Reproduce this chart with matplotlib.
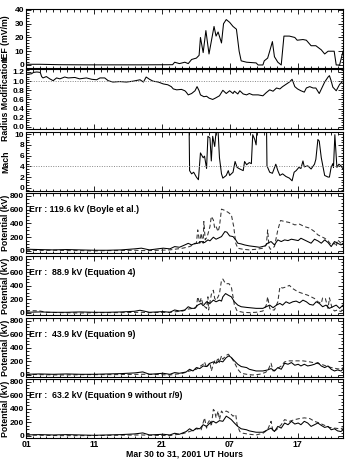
import matplotlib
matplotlib.use("Agg")
import matplotlib.pyplot as plt
from matplotlib.ticker import MultipleLocator, AutoMinorLocator, FixedLocator, FormatStrFormatter

plt.rcParams['font.family'] = ['Liberation Sans', 'DejaVu Sans']
plt.rcParams['font.weight'] = 'bold'

# ---------------- data ----------------
ief_t = [1, 3, 6, 10, 14, 18, 22.6, 22.9, 23.6, 24.4, 24.9, 25.4, 26.1, 26.5, 26.7, 27.1, 27.5, 27.96,
         28.7, 29.0, 29.3, 29.8, 30.1, 30.5, 31.0, 31.5, 32.0, 32.4, 32.7, 33.5, 34.9, 35.2, 35.9, 36.1,
         36.6, 36.9, 37.3, 37.6, 38.1, 38.6, 39.0, 39.8, 40.6, 40.95, 41.8, 42.3, 43.0, 43.7, 44.5, 45.0,
         45.5, 46.4, 46.7, 47.2, 47.7]
ief_v = [0.5, 0.5, 0.2, 0.1, 0.1, 0.1, 0.2, 2, 1, 2, 1, 4, 5, 7, 20, 9, 25, 8,
         28, 21, 24, 16, 30, 33, 31, 28, 26, 10, 3, 2, 1.5, 0, 0, 3,
         5, 10, 17, 6, 2, 0, 21, 21, 20, 18, 18.5, 18, 14, 14, 11, 8,
         10, 10, 0, 0, 10]

rad_t = [1.1, 1.8, 2.1, 2.6, 3.1, 3.3, 3.5, 4.0, 4.5, 5.0, 5.5, 6.0, 6.7, 7.2, 8.2, 8.9, 9.9, 10.7,
         11.4, 11.9, 12.6, 13.1, 13.8, 14.8, 15.8, 16.8, 17.8, 18.3, 18.7, 19.2, 19.7, 20.5, 21.2,
         21.9, 22.4, 22.7, 23.2, 23.9, 24.4, 24.6, 24.9, 25.4, 25.9, 26.2, 26.5, 26.7, 27.2, 27.6,
         27.96, 28.5, 28.9, 29.5, 30.0, 30.5, 31.0, 31.5, 31.7, 32.2, 32.5, 33.0, 33.5, 33.9, 34.4,
         35.2, 35.9, 36.4, 36.9, 37.4, 37.9, 38.4, 38.8, 39.3, 39.8, 40.2, 40.6, 41.0, 41.5, 42.0,
         42.3, 42.8, 43.3, 43.7, 44.2, 45.0, 45.5, 45.7, 45.95, 46.2, 46.7, 47.2, 47.7]
rad_v = [1.15, 1.16, 1.19, 1.2, 1.19, 1.10, 1.07, 1.10, 1.05, 1.01, 1.07, 1.05, 1.09, 1.07, 1.08,
         1.05, 1.07, 1.04, 1.03, 1.07, 1.07, 1.01, 0.98, 0.99, 0.98, 1.0, 1.03, 0.98, 1.09, 1.04,
         1.0, 0.98, 0.94, 0.92, 0.88, 0.83, 0.81, 0.82, 0.79, 0.76, 0.70, 0.73, 0.79, 0.88, 0.79,
         0.70, 0.66, 0.67, 0.63, 0.60, 0.63, 0.68, 0.80, 0.73, 0.79, 0.73, 0.78, 0.72, 0.79, 0.72,
         0.70, 0.73, 0.70, 0.70, 0.68, 0.75, 0.81, 0.78, 0.85, 0.83, 0.88, 0.93, 0.98, 1.04, 0.88,
         0.83, 0.79, 0.76, 0.85, 0.88, 0.85, 0.85, 0.73, 0.98, 1.09, 1.12, 1.01, 0.87, 0.79, 0.93, 1.0]

mach_t = [1, 24.9, 25.0, 25.1, 25.4, 25.7, 26.1, 26.4, 26.7, 27.1, 27.3, 27.6, 27.8, 28.1, 28.3, 28.5,
          28.8, 29.0, 29.3, 29.5, 29.8, 30.0, 30.5, 30.8, 31.0, 31.5, 31.8, 32.1, 32.5, 33.0, 33.2,
          33.5, 33.9, 34.2, 34.4, 34.7, 34.9, 35.2, 36.4, 36.5, 36.9, 37.3, 37.8, 38.1, 38.4, 38.8,
          39.3, 39.8, 40.2, 40.5, 40.8, 41.2, 41.5, 41.8, 42.0, 42.5, 43.0, 43.5, 43.7, 44.0, 44.2,
          44.5, 45.0, 45.5, 45.7, 45.95, 46.2, 46.3, 46.5, 46.8, 47.1, 47.4, 47.7]
mach_v = [15, 15, 15, 3.2, 2.6, 2.9, 2.0, 1.5, 6.5, 5.6, 5.9, 3.6, 9.6, 9.3, 5.0, 9.6,
          7.7, 10.5, 10.5, 5.6, 2.6, 1.8, 2.3, 3.2, 2.3, 2.9, 4.9, 3.8, 3.5, 3.2, 4.9,
          4.3, 4.7, 4.5, 9.9, 9.0, 8.0, 15, 15, 4.1, 2.9, 2.7, 4.4, 3.2, 2.3, 2.6,
          2.1, 1.8, 1.3, 2.9, 3.2, 3.8, 3.6, 5.0, 3.9, 4.1, 3.5, 4.4, 5.3, 9.0, 8.7,
          5.6, 2.3, 2.0, 2.0, 3.8, 4.5, 3.8, 9.9, 3.8, 4.4, 4.1, 3.5]

# Potential panel 1 (Boyle et al.)
p1s_t = [1, 3, 5, 7, 9, 11, 13, 15, 17, 18, 19.2, 21.2, 22.2, 22.9, 23.6, 24.4, 24.9, 25.4, 25.9,
         26.3, 26.8, 27.3, 27.8, 28.1, 28.6, 29.0, 29.3, 29.8, 30.3, 30.6, 31.0, 31.5, 31.9, 32.2,
         32.7, 33.2, 33.9, 34.7, 35.4, 36.2, 36.6, 37.1, 37.6, 38.1, 38.6, 39.1, 39.6, 40.1, 40.6,
         41.1, 41.5, 42.0, 42.5, 43.0, 43.5, 44.0, 44.5, 45.0, 45.5, 45.96, 46.45, 46.9, 47.4, 47.7]
p1s_v = [25, 20, 15, 20, 15, 10, 10, 15, 30, 40, 15, 40, 30, 63, 53, 87, 110, 87, 110,
         110, 136, 121, 160, 146, 199, 170, 184, 208, 281, 272, 218, 208, 160, 112,
         102, 87, 73, 63, 53, 73, 112, 136, 87, 160, 136, 160, 150, 170, 160,
         150, 184, 160, 136, 112, 170, 146, 112, 160, 121, 63, 136, 112, 87, 110]
p1d_t = [1, 3, 5, 7, 9, 11, 13, 15, 17, 18, 19.2, 22.2, 24.1, 25.1, 25.6, 26.1, 26.3, 26.6, 26.8,
         27.1, 27.2, 27.4, 27.7, 28.1, 28.3, 28.6, 28.8, 29.0, 29.3, 29.5, 29.8, 30.3, 30.8, 31.25,
         31.6, 31.9, 32.2, 32.97, 33.9, 34.9, 35.9, 36.4, 36.6, 36.8, 37.0, 37.6, 38.1, 38.5, 39.1,
         39.8, 40.6, 41.3, 42.0, 42.8, 43.5, 44.0, 44.5, 45.0, 45.5, 45.96, 46.45, 46.7, 46.9, 47.4, 47.7]
p1d_v = [10, 5, 10, 5, 5, 0, 5, 5, 10, 5, 5, 15, 40, 63, 87, 112, 305, 112, 257,
         112, 427, 160, 208, 354, 500, 450, 330, 354, 281, 354, 606, 587, 558, 524,
         354, 112, 39, 24, 15, 24, 39, 87, 305, 63, 24, 63, 305, 441, 427,
         412, 378, 388, 354, 330, 281, 233, 208, 184, 146, 87, 112, 63, 160, 112, 90]

# Potential panel 2 (Equation 4)
p2s_t = [1, 3, 5, 7, 9, 11, 13, 15, 17, 17.8, 19.2, 21.2, 22.2, 22.9, 23.6, 24.4, 24.9, 25.4, 25.9,
         26.3, 26.8, 27.1, 27.6, 28.1, 28.6, 29.0, 29.5, 29.8, 30.0, 30.4, 30.8, 31.25, 31.7, 32.2,
         32.7, 33.5, 33.9, 34.9, 35.9, 36.4, 36.9, 37.4, 37.9, 38.4, 38.8, 39.3, 39.8, 40.3, 40.8,
         41.3, 41.8, 42.3, 42.8, 43.3, 43.75, 44.2, 44.7, 45.2, 45.7, 46.2, 46.7, 47.2, 47.7]
p2s_v = [10, 15, 10, 10, 15, 10, 10, 15, 25, 40, 10, 20, 10, 44, 29, 44, 92, 68, 68,
         116, 141, 107, 165, 141, 189, 165, 189, 175, 238, 286, 262, 238, 165, 116,
         92, 82, 78, 68, 68, 92, 116, 78, 116, 141, 116, 165, 141, 165, 175,
         150, 189, 165, 126, 116, 165, 141, 92, 116, 68, 92, 116, 68, 116]
p2d_t = [1, 1.5, 3, 4, 6, 9, 12, 15, 18, 19.2, 22.2, 24.1, 24.9, 25.6, 26.1, 26.3, 26.6, 26.8, 27.1,
         27.6, 27.8, 27.9, 28.3, 28.6, 28.8, 29.0, 29.3, 29.5, 29.8, 30.0, 30.4, 30.9, 31.25, 31.5,
         31.7, 32.1, 32.97, 33.9, 34.9, 35.9, 36.4, 36.6, 36.9, 37.1, 37.6, 38.1, 38.4, 38.8, 39.3,
         39.8, 40.3, 41.1, 41.8, 42.5, 43.0, 43.5, 44.0, 44.5, 44.7, 45.1, 45.5, 45.7, 46.1, 46.45,
         46.9, 47.4, 47.7]
p2d_v = [20, 35, 30, 10, 5, 0, 5, 5, 10, 5, 10, 29, 58, 68, 92, 238, 141, 223, 116,
         68, 238, 44, 272, 335, 213, 189, 238, 286, 480, 500, 432, 432, 383, 238,
         116, 29, 10, 5, 10, 29, 116, 238, 68, 44, 44, 165, 383, 368, 383,
         407, 359, 310, 286, 262, 238, 213, 165, 141, 223, 213, 68, 223, 68, 29,
         44, 20, 68]

# Potential panel 3 (Equation 9)
p3s_t = [1, 3, 5, 7, 9, 11, 13, 15, 17, 18.2, 19.2, 21.2, 22.2, 22.9, 23.6, 24.6, 25.1, 25.6, 26.1,
         26.6, 27.1, 27.6, 28.1, 28.6, 29.0, 29.5, 30.0, 30.5, 30.9, 31.25, 31.7, 32.2, 32.7, 33.5,
         33.9, 34.9, 35.9, 36.6, 37.1, 37.6, 38.1, 38.6, 39.1, 39.6, 40.1, 40.6, 41.1, 41.5, 42.0,
         42.5, 43.0, 43.5, 44.0, 44.5, 45.0, 45.5, 45.96, 46.45, 46.9, 47.4, 47.7]
p3s_v = [10, 15, 10, 15, 10, 10, 15, 20, 30, 45, 10, 25, 10, 35, 25, 44, 84, 59, 109,
         94, 133, 124, 173, 193, 173, 208, 193, 257, 282, 257, 208, 158, 124, 109,
         84, 59, 59, 74, 94, 59, 109, 84, 173, 158, 183, 143, 158, 133, 158,
         133, 143, 158, 183, 133, 109, 133, 84, 59, 74, 59, 84]
p3d_t = [1, 3, 6, 10, 14, 18, 19.2, 22.2, 24.1, 25.1, 26.1, 26.6, 27.1, 27.3, 27.6, 28.1, 28.3, 28.6,
         28.8, 29.0, 29.3, 29.5, 29.8, 30.0, 30.4, 30.8, 31.25, 31.7, 32.2, 32.7, 33.5, 34.4, 35.4,
         36.2, 36.6, 37.1, 37.4, 37.9, 38.6, 39.1, 39.8, 40.8, 41.8, 42.8, 43.75, 44.5, 45.2, 45.96,
         46.7, 47.4, 47.7]
p3d_v = [10, 5, 0, 5, 5, 10, 10, 0, 25, 59, 84, 124, 158, 193, 109, 183, 59, 158,
         208, 173, 257, 183, 282, 232, 282, 306, 257, 183, 84, 25, 10, 0, 10,
         35, 59, 173, 59, 84, 133, 193, 208, 208, 208, 193, 173, 158, 133, 109,
         94, 84, 109]

# Potential panel 4 (Equation 9 without r/9)
p4s_t = [1, 3, 5, 7, 9, 11, 13, 15, 17, 18.2, 19.2, 21.2, 22.2, 22.9, 23.6, 24.6, 25.1, 25.6, 26.1,
         26.6, 27.1, 27.6, 28.1, 28.6, 29.0, 29.5, 30.0, 30.5, 30.9, 31.25, 31.7, 32.2, 32.7, 33.5,
         33.9, 34.9, 35.9, 36.6, 37.1, 37.6, 38.1, 38.6, 39.1, 39.6, 40.1, 40.6, 41.1, 41.5, 42.0,
         42.5, 43.0, 43.5, 44.0, 44.5, 45.0, 45.5, 45.96, 46.45, 46.9, 47.4, 47.7]
p4s_v = [15, 20, 15, 20, 15, 10, 15, 20, 30, 45, 15, 25, 15, 40, 25, 65, 106, 75, 116,
         106, 166, 141, 191, 216, 191, 226, 216, 292, 267, 241, 191, 141, 106, 91,
         75, 55, 55, 91, 116, 65, 141, 116, 191, 166, 216, 176, 191, 166, 216,
         191, 141, 166, 191, 156, 126, 141, 91, 106, 75, 65, 91]
p4d_t = [1, 3, 6, 10, 14, 18, 19.2, 22.2, 24.1, 25.1, 26.1, 26.8, 27.3, 27.6, 27.8, 28.1, 28.3,
         28.6, 28.8, 29.0, 29.3, 29.5, 29.8, 30.0, 30.5, 31.0, 31.5, 31.9, 32.1, 32.5, 32.97, 33.9,
         34.9, 35.9, 36.6, 37.1, 37.4, 37.9, 38.6, 39.1, 39.8, 40.6, 41.3, 42.0, 42.8, 43.5, 44.2,
         45.0, 45.7, 46.45, 47.2, 47.7]
p4d_v = [15, 10, 5, 5, 10, 15, 10, 5, 35, 65, 106, 91, 266, 116, 191, 241, 141,
         392, 367, 267, 367, 241, 367, 342, 367, 342, 292, 317, 166, 65, 40, 25,
         15, 40, 91, 216, 65, 91, 166, 241, 216, 241, 257, 267, 257, 216, 191,
         156, 126, 116, 106, 116]

err_texts = ["Err : 119.6 kV (Boyle et al.)",
             "Err :  88.9 kV (Equation 4)",
             "Err :  43.9 kV (Equation 9)",
             "Err :  63.2 kV (Equation 9 without r/9)"]
xtick_pos = [1, 11, 21, 31, 41]
xtick_labels = ["01", "11", "21", "07", "17"]

# ---------------- figure ----------------
W, H = 347, 462
fig = plt.figure(figsize=(W / 100, H / 100), dpi=100)

px_panels = [(9, 68), (69, 129), (132, 191), (193, 253), (256, 315), (318, 377), (379, 438)]
left, right = 26, 343
axes = []
for (t, b) in px_panels:
    ax = fig.add_axes([left / W, 1 - b / H, (right - left) / W, (b - t) / H])
    axes.append(ax)

fs = 6.0
lw = 0.75

def style(ax, ylim, major, minor_n, ylabel, last=False):
    ax.set_xlim(1, 47.7)
    ax.set_ylim(*ylim)
    ax.yaxis.set_major_locator(MultipleLocator(major))
    ax.yaxis.set_minor_locator(AutoMinorLocator(minor_n))
    ax.xaxis.set_major_locator(FixedLocator(xtick_pos))
    ax.xaxis.set_minor_locator(MultipleLocator(1))
    ax.tick_params(axis='both', which='both', direction='in', top=True, right=True,
                   labelsize=fs, width=0.6, pad=1.2)
    ax.tick_params(which='major', length=3.5)
    ax.tick_params(which='minor', length=1.8)
    for lab in ax.get_yticklabels():
        lab.set_fontweight('bold')
    if last:
        ax.set_xticklabels(xtick_labels, fontsize=fs + 0.3, fontweight='bold')
        ax.set_xlabel("Mar 30 to 31, 2001 UT Hours", fontsize=fs + 0.3, fontweight='bold',
                      labelpad=0.5)
    else:
        ax.set_xticklabels([])
    ax.set_ylabel(ylabel, fontsize=fs + 0.3, fontweight='bold')
    ax.yaxis.set_label_coords(-0.049, 0.5)
    for sp in ax.spines.values():
        sp.set_linewidth(0.8)

ax = axes[0]
ax.plot(ief_t, ief_v, color='black', lw=lw)
style(ax, (-2.2, 40.7), 10, 5, "IEF (mV/m)")

ax = axes[1]
ax.plot(rad_t, rad_v, color='black', lw=lw)
ax.axhline(1.0, color='#888888', lw=0.7, ls=(0, (1, 1.5)))
style(ax, (-0.045, 1.265), 0.2, 4, "Radius Modification")
ax.yaxis.set_major_formatter(FormatStrFormatter('%.1f'))

ax = axes[2]
ax.plot(mach_t, mach_v, color='black', lw=lw)
ax.axhline(4.0, color='#888888', lw=0.7, ls=(0, (1, 1.5)))
style(ax, (-0.6, 10.4), 2, 4, "Mach")

pots = [(p1s_t, p1s_v, p1d_t, p1d_v), (p2s_t, p2s_v, p2d_t, p2d_v),
        (p3s_t, p3s_v, p3d_t, p3d_v), (p4s_t, p4s_v, p4d_t, p4d_v)]
for i, (st, sv, dt, dv) in enumerate(pots):
    ax = axes[3 + i]
    ax.plot(dt, dv, color='#333333', lw=lw, ls=(0, (4, 2.5)))
    ax.plot(st, sv, color='black', lw=lw)
    style(ax, (-30, 840), 200, 4, "Potential (kV)", last=(i == 3))
    ax.text(1.45, 600, err_texts[i], fontsize=fs + 0.3, fontweight='bold', va='center', ha='left')

fig.savefig("out.png", dpi=100)
